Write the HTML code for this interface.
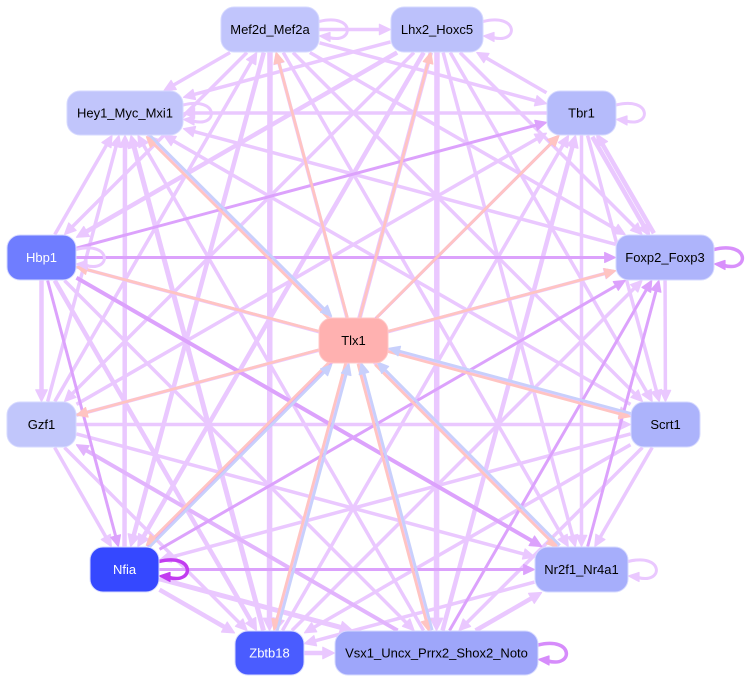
<!DOCTYPE html>
<html><head><meta charset="utf-8">
<style>
html,body{margin:0;padding:0;background:#fff;width:745px;height:683px;overflow:hidden}
svg{display:block}
text{font-family:"Liberation Sans",Arial,sans-serif;font-size:13px}
</style></head>
<body>
<svg id="svg" width="745" height="683" viewBox="0 0 745 683" xmlns="http://www.w3.org/2000/svg">
<rect x="0" y="0" width="745" height="683" fill="#fff"/>
<g id="edges"></g>
<g id="nodes" stroke="#d6d9ff" stroke-width="1">
<rect x="221" y="7" width="98" height="45" rx="13" fill="#c1c5fc"/>
<rect x="391" y="7" width="92" height="45" rx="13" fill="#bcc1fb"/>
<rect x="67" y="91" width="116" height="44" rx="13" fill="#c1c5fb"/>
<rect x="547" y="91" width="69" height="44" rx="13" fill="#b5bbfb"/>
<rect x="7" y="235" width="69" height="45" rx="13" fill="#6f7dff"/>
<rect x="616" y="235" width="98" height="45" rx="13" fill="#aeb4fb"/>
<rect x="319" y="318" width="69" height="45" rx="13" fill="#ffb1b0" stroke="#ffc8c8"/>
<rect x="7" y="402" width="69" height="45" rx="13" fill="#c1c6fb"/>
<rect x="631" y="402" width="69" height="45" rx="13" fill="#acb3fb"/>
<rect x="90" y="547" width="69" height="45" rx="13" fill="#3548ff"/>
<rect x="535" y="547" width="93" height="45" rx="13" fill="#a6aefb"/>
<rect x="235" y="631" width="69" height="44" rx="13" fill="#4a5cff"/>
<rect x="335" y="631" width="203" height="44" rx="13" fill="#9ea6fa"/>
</g>
<g id="labels" text-anchor="middle">
<text x="270" y="34" fill="#000">Mef2d_Mef2a</text>
<text x="437" y="34" fill="#000">Lhx2_Hoxc5</text>
<text x="125" y="117.5" fill="#000">Hey1_Myc_Mxi1</text>
<text x="581.5" y="117.5" fill="#000">Tbr1</text>
<text x="41.5" y="262" fill="#fff">Hbp1</text>
<text x="665" y="262" fill="#000">Foxp2_Foxp3</text>
<text x="353.5" y="345" fill="#000">Tlx1</text>
<text x="41.5" y="429" fill="#000">Gzf1</text>
<text x="665.5" y="429" fill="#000">Scrt1</text>
<text x="124.5" y="574" fill="#fff">Nfia</text>
<text x="581.5" y="574" fill="#000">Nr2f1_Nr4a1</text>
<text x="269.5" y="657.5" fill="#fff">Zbtb18</text>
<text x="436.5" y="657.5" fill="#000">Vsx1_Uncx_Prrx2_Shox2_Noto</text>
</g>
</svg>
<script>
(function(){
var N={M:[221,7,98,45],L:[391,7,92,45],H:[67,91,116,44],T:[547,91,69,44],B:[7,235,69,45],F:[616,235,98,45],X:[319,318,69,45],G:[7,402,69,45],S:[631,402,69,45],N:[90,547,69,45],R:[535,547,93,45],Z:[235,631,69,44],V:[335,631,203,44]};
var C={P:'#eac8ff',D:'#dca2fc',K:'#ffc4c2',U:'#c8d0fc'};
var NS='http://www.w3.org/2000/svg';
var G=document.getElementById('edges');
function ctr(k){var n=N[k];return[n[0]+n[2]/2,n[1]+n[3]/2];}
function clip(k,c,o){var n=N[k];var dx=o[0]-c[0],dy=o[1]-c[1];var hw=n[2]/2+0.5,hh=n[3]/2+0.5;var t=1e9;
 if(Math.abs(dx)>1e-6)t=Math.min(t,hw/Math.abs(dx));if(Math.abs(dy)>1e-6)t=Math.min(t,hh/Math.abs(dy));
 return[c[0]+dx*t,c[1]+dy*t];}
function el(tag,attrs){var e=document.createElementNS(NS,tag);for(var a in attrs)e.setAttribute(a,attrs[a]);G.appendChild(e);return e;}
function edge(a,b,w,col,off){
 off=off||0;var ca=ctr(a),cb=ctr(b);var dx=cb[0]-ca[0],dy=cb[1]-ca[1];var L=Math.hypot(dx,dy);
 var ux=dx/L,uy=dy/L;var px=-uy*off,py=ux*off;
 var sa=[ca[0]+px,ca[1]+py],sb=[cb[0]+px,cb[1]+py];
 var p1=clip(a,sa,sb),p2=clip(b,sb,sa);
 var al=9+w*0.6,aw=3.5+w*0.5;
 var e=[p2[0]-ux*al,p2[1]-uy*al];
 el('line',{x1:p1[0],y1:p1[1],x2:e[0]+ux*1,y2:e[1]+uy*1,stroke:col,'stroke-width':w});
 el('polygon',{points:p2[0]+','+p2[1]+' '+(e[0]-uy*aw)+','+(e[1]+ux*aw)+' '+(e[0]+uy*aw)+','+(e[1]-ux*aw),fill:col,stroke:col,'stroke-width':1.2,'stroke-linejoin':'round'});
}
function loop(k,col,w){
 var n=N[k];var x0=n[0]+n[2];var cy=n[1]+n[3]/2;
 el('path',{d:'M'+x0+' '+(cy-8)+' C'+(x0+36)+' '+(cy-17)+' '+(x0+36)+' '+(cy+15)+' '+(x0+10)+' '+(cy+8),fill:'none',stroke:col,'stroke-width':w});
 el('polygon',{points:(x0+0.5)+','+(cy+6.5)+' '+(x0+11)+','+(cy+3)+' '+(x0+11)+','+(cy+12),fill:col,stroke:col,'stroke-width':1.2,'stroke-linejoin':'round'});
}
var P=C.P,D=C.D,K=C.K,U=C.U;
var E=[
['M','L',3.5,P],['M','H',3.5,P],['M','T',3.5,P],['M','B',3.5,P],['M','F',3.5,P],['G','M',3.5,P],['M','S',3.5,P],['M','N',4.5,P],['M','R',3.5,P],['M','Z',5.5,P],['V','M',3.5,P],
['L','H',3.5,P],['T','L',3.5,P],['L','B',4.5,P],['L','F',3.5,P],['L','G',3.5,P],['L','S',3.5,P],['L','N',4.5,P],['L','R',3.5,P],['L','Z',4.5,P],['L','V',5.5,P],
['T','H',3.5,P],['B','H',3.5,P],['F','H',3.5,P],['G','H',3.5,P],['S','H',3.5,P],['N','H',4.5,P],['R','H',3.5,P],['Z','H',5,P],['V','H',3.5,P],
['T','F',4.5,P,2.5],['F','T',4.5,P,2.5],['G','T',3.5,P],['T','S',3.5,P],['T','R',3.5,P],['Z','T',3.5,P],['V','T',4.5,P],
['B','G',4.5,P],['B','S',3.5,P],['B','Z',4.5,P],['B','V',3.5,P],
['G','F',3.5,P],['F','S',3.5,P],['Z','F',3.5,P],
['G','S',3.5,P],['G','N',3.5,P],['G','R',3.5,P],['G','Z',3.5,P],
['S','N',3.5,P],['S','R',3.5,P],['S','Z',3.5,P],['S','V',3.5,P],
['N','Z',4.5,P],['N','V',5,P],['R','Z',3.5,P],['V','R',4.5,P],['Z','V',4.5,P],
['V','G',4,'#e2b4fd'],['B','T',3,D],['N','T',3,D],['B','F',3,D],['B','N',3,D],['B','R',4,D],['N','F',3,D],['R','F',3,D],['V','F',3,D],['N','R',3,D],
['X','H',2.8,K,-1.7],['H','X',2.8,U,-1.7],
['X','M',2.8,K],['X','L',2.8,K],['X','T',2.8,K],['X','F',2.8,K],['X','B',2.8,K],['X','G',2.8,K],
['X','N',2.8,K,1.7],['N','X',2.8,U,1.7],
['X','Z',2.8,K,1.7],['Z','X',2.8,U,1.7],
['X','V',2.8,K,1.7],['V','X',2.8,U,1.7],
['X','R',2.8,K,1.7],['R','X',2.8,U,1.7],
['X','S',2.8,K,1.7],['S','X',2.8,U,1.7]
];
for(var i=0;i<E.length;i++){var q=E[i];edge(q[0],q[1],q[2],q[3],q[4]||0);}
loop('M',P,3);loop('L',P,3);loop('H',P,3);loop('T',P,3);loop('B',P,3);loop('R',P,3);
loop('F','#d890fb',3.5);loop('V','#d68cfb',3.5);loop('N','#c23cf0',3.5);
})();
</script>
</body></html>
